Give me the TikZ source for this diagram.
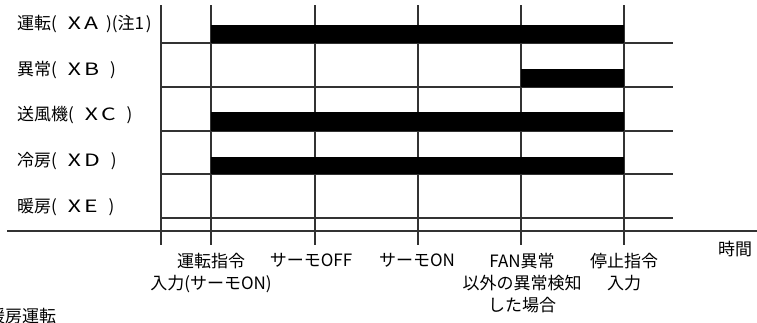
\documentclass[tikz,border=0pt]{standalone}
\usepackage{fontspec}
\usepackage{graphicx}
\setmainfont{Noto Sans CJK JP}
\usetikzlibrary{positioning}
\definecolor{lineGris}{RGB}{50,50,50}
\newcommand{\wl}[1]{\scalebox{1.35}[1]{#1}}
\newcommand{\sig}[1]{(\hspace{11pt}\wl{X}\hspace{3pt}\wl{#1}\hspace{11pt})}

\begin{document}
\begin{tikzpicture}[x=1pt, y=-1pt,
    rowlabel/.style={anchor=west, inner sep=0pt, font=\fontsize{17}{19}\selectfont},
    ticklabel/.style={anchor=north, align=center, inner sep=0pt, font=\fontsize{17}{22}\selectfont},
    gridline/.style={draw=lineGris, line width=1.2pt},
    axisline/.style={draw=lineGris, line width=1.8pt},
    onbar/.style={fill=black}]
\useasboundingbox (0,0) rectangle (757,322);
\clip (0,0) rectangle (757,322);
% ticks of the time axis
\foreach \name/\x in {t0/161, t1/211, t2/315, t3/418, t4/521, t5/624} {
    \coordinate (\name) at (\x,5);
    \coordinate (\name b) at (\x,245);
}
\draw[axisline] (t0) -- (t0b);
\foreach \name in {t1, t2, t3, t4, t5}
    \draw[gridline] (\name) -- (\name b);
% row lines
\foreach \i/\y in {1/43, 2/87, 3/131, 4/174, 5/218} {
    \coordinate (r\i) at (161,\y);
    \coordinate (r\i e) at (673,\y);
    \draw[gridline] (r\i) -- (r\i e);
}
\coordinate (axl) at (7,231);
\coordinate (axr) at (757,231);
\draw[axisline] (axl) -- (axr);
% ON periods
\fill[onbar] (211,25) rectangle (624,43);
\fill[onbar] (521,69) rectangle (624,87);
\fill[onbar] (211,112) rectangle (624,131);
\fill[onbar] (211,157) rectangle (624,174);
% signal names
\node[rowlabel] (xa) at (17,24) {運転(\hspace{11pt}\wl{X}\hspace{3pt}\wl{A}\hspace{8pt})(注1\hspace{2pt})};
\node[rowlabel] (xb) at (17,70) {異常\sig{B}};
\node[rowlabel] (xc) at (17,115) {送風機\sig{C}};
\node[rowlabel] (xd) at (17,161) {冷房\sig{D}};
\node[rowlabel] (xe) at (17,207) {暖房\sig{E}};
% events
\node[ticklabel] (ev1) at (211,253) {運転指令\\入力(サーモON)};
\node[ticklabel] (ev2) at (311,253) {サーモOFF};
\node[ticklabel] (ev3) at (417,253) {サーモON};
\node[ticklabel] (ev4) at (522,253) {FAN異常\\以外の異常検知\\した場合};
\node[ticklabel] (ev5) at (624,253) {停止指令\\入力};
\node[ticklabel] (time) at (735,241) {時間};
\node[rowlabel] (mode) at (-12,316) {暖房運転};
\end{tikzpicture}
\end{document}
